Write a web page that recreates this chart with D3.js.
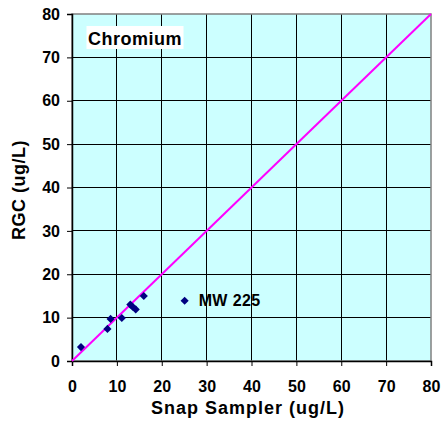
<!DOCTYPE html>
<html><head><meta charset="utf-8">
<script src="https://cdn.jsdelivr.net/npm/d3@7"></script>
<style>body{margin:0;background:#fff}svg{display:block}text{font-family:Arial,"Liberation Sans",sans-serif;font-weight:bold}</style>
</head><body>
<svg id="c" width="446" height="421"></svg>
<script>
const snapX = [2.0, 7.9, 8.6, 11.1, 13.0, 13.5, 14.2, 16.0, 25.1];
const rgcY  = [3.2, 7.4, 9.7, 9.9, 13.0, 12.5, 11.9, 15.0, 13.9];
const ticks = [0, 10, 20, 30, 40, 50, 60, 70, 80];
const lineX = [0, 80];
const title = "Chromium";
const outlier = {label: "MW 225", x: 25.1, y: 13.9};

const svg = d3.select("#c");
const L = 72, R = 431, T = 14, B = 361;
const x = d3.scaleLinear().domain([0, 80]).range([L, R]);
const y = d3.scaleLinear().domain([0, 80]).range([B, T]);

svg.append("rect").attr("x", L).attr("y", T).attr("width", R - L).attr("height", B - T).attr("fill", "#ccffff");
const g = svg.append("g");
ticks.slice(1, -1).forEach(t => {
  g.append("line").attr("x1", x(t)).attr("x2", x(t)).attr("y1", T).attr("y2", B).attr("stroke", "#000").attr("stroke-width", 1).attr("shape-rendering", "crispEdges");
  g.append("line").attr("y1", y(t)).attr("y2", y(t)).attr("x1", L).attr("x2", R).attr("stroke", "#000").attr("stroke-width", 1).attr("shape-rendering", "crispEdges");
});
svg.append("rect").attr("x", L).attr("y", T).attr("width", R - L).attr("height", B - T).attr("fill", "none").attr("stroke", "#808080").attr("stroke-width", 1.5);

const xa = svg.append("g").attr("transform", `translate(0,${B})`).call(d3.axisBottom(x).tickValues(ticks).tickSize(5).tickPadding(15));
const ya = svg.append("g").attr("transform", `translate(${L},0)`).call(d3.axisLeft(y).tickValues(ticks).tickSize(5).tickPadding(7));
[xa, ya].forEach(a => {
  a.select(".domain").attr("stroke", "#000").attr("stroke-width", 1.5);
  a.selectAll(".tick line").attr("stroke", "#000");
  a.selectAll("text").attr("font-size", 16).attr("font-weight", "bold").attr("font-family", "Arial, 'Liberation Sans', sans-serif").attr("fill", "#000");
});

const line = d3.line().x(d => x(d)).y(d => y(d));
svg.append("path").datum(lineX).attr("d", line).attr("stroke", "#ff00ff").attr("stroke-width", 2).attr("fill", "none");

const sym = d3.symbol().type(d3.symbolDiamond2).size(42);
svg.selectAll(".pt").data(snapX).enter().append("path").attr("class", "pt")
  .attr("transform", (d, i) => `translate(${x(d)},${y(rgcY[i])})`)
  .attr("d", sym).attr("fill", "#000080");

svg.append("text").attr("x", x(outlier.x) + 14).attr("y", y(outlier.y) + 5.5).attr("font-size", 16).attr("letter-spacing", 0.4).text(outlier.label);

svg.append("rect").attr("x", 86.5).attr("y", 26).attr("width", 97).attr("height", 23).attr("fill", "#fff");
svg.append("text").attr("x", 135).attr("y", 44.5).attr("text-anchor", "middle").attr("font-size", 18).attr("letter-spacing", 0.5).text(title);

svg.append("text").attr("x", 248).attr("y", 414).attr("text-anchor", "middle").attr("font-size", 18).attr("letter-spacing", 1).text("Snap Sampler (ug/L)");
svg.append("text").attr("transform", `translate(25,190) rotate(-90)`).attr("text-anchor", "middle").attr("font-size", 18).attr("letter-spacing", 0.5).text("RGC (ug/L)");
</script>
</body></html>
